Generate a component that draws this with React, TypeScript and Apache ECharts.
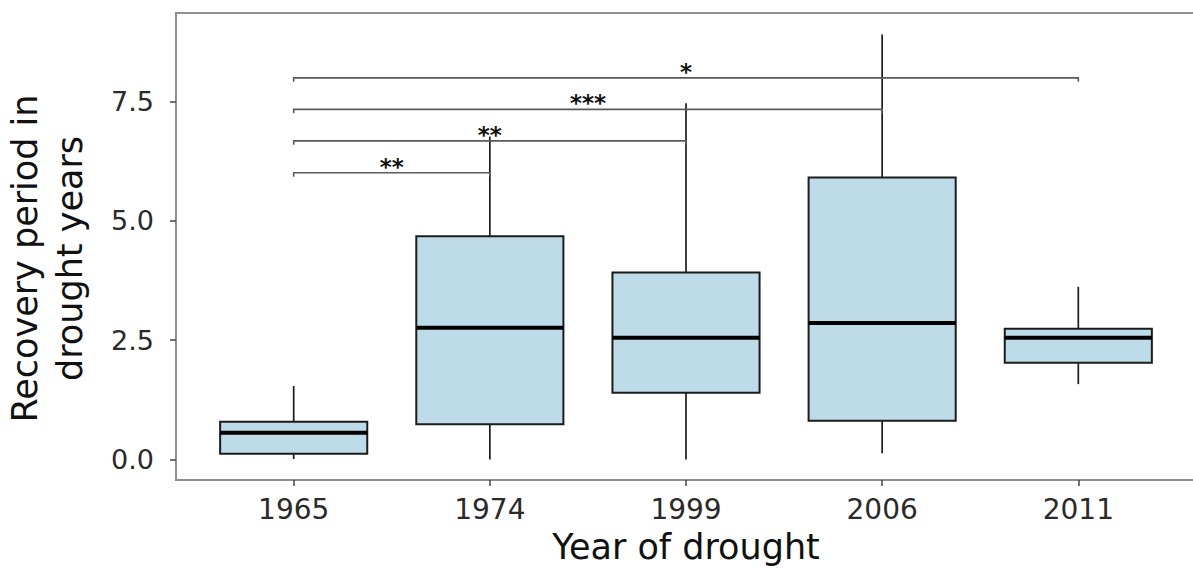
import React, { useEffect, useRef } from "react";
import * as echarts from "echarts";

const categories = ["1965", "1974", "1999", "2006", "2011"];
// [min, Q1, median, Q3, max]
const boxStats: number[][] = [
  [0.01, 0.12, 0.56, 0.79, 1.54],
  [0.0, 0.74, 2.76, 4.68, 6.77],
  [0.0, 1.4, 2.55, 3.92, 7.47],
  [0.13, 0.81, 2.86, 5.91, 8.91],
  [1.58, 2.03, 2.55, 2.74, 3.62],
];
const yTicks = [0, 2.5, 5, 7.5];
// [from category index, to category index, height, label]
const brackets: [number, number, number, string][] = [
  [0, 1, 6.01, "**"],
  [0, 2, 6.68, "**"],
  [0, 3, 7.34, "***"],
  [0, 4, 8.0, "*"],
];

const FONT = "'DejaVu Sans', Verdana, sans-serif";

export default function App() {
  const ref = useRef<HTMLDivElement>(null);
  useEffect(() => {
    if (!ref.current) return;
    const chart = echarts.init(ref.current, undefined, { renderer: "svg" });
    const xPos = categories.map((_, i) => i + 1);
    chart.setOption({
      animation: false,
      backgroundColor: "#ffffff",
      grid: {
        left: 176,
        right: 0,
        top: 13,
        bottom: 89,
        containLabel: false,
        outerBoundsMode: "none",
        show: true,
        borderColor: "#8e8e8e",
        borderWidth: 2,
        backgroundColor: "transparent",
      },
      xAxis: {
        type: "value",
        min: 0.4,
        max: 5.6,
        splitLine: { show: false },
        axisLine: { show: false, onZero: false },
        axisTick: {
          show: true,
          customValues: xPos,
          length: 6,
          lineStyle: { color: "#444", width: 1.5 },
        },
        axisLabel: {
          customValues: xPos,
          formatter: (v: number) => categories[Math.round(v) - 1] ?? "",
          fontSize: 28,
          fontFamily: FONT,
          color: "#2a2a2a",
          margin: 15,
        },
        name: "Year of drought",
        nameLocation: "middle",
        nameGap: 49,
        nameTextStyle: { fontSize: 35, fontFamily: FONT, color: "#111" },
      },
      yAxis: {
        type: "value",
        min: -0.43,
        max: 9.36,
        splitLine: { show: false },
        axisLine: { show: false, onZero: false },
        axisTick: {
          show: true,
          customValues: yTicks,
          length: 6,
          lineStyle: { color: "#444", width: 1.5 },
        },
        axisLabel: {
          customValues: yTicks,
          formatter: (v: number) => v.toFixed(1),
          fontSize: 27,
          fontFamily: FONT,
          color: "#2a2a2a",
          margin: 22,
        },
        name: "Recovery period in\ndrought years",
        nameLocation: "middle",
        nameRotate: 90,
        nameGap: 84,
        nameTextStyle: {
          fontSize: 35,
          fontFamily: FONT,
          color: "#111",
          lineHeight: 45,
          padding: [0, 24, 0, 0],
        },
      },
      series: [
        {
          type: "custom",
          data: boxStats.map((s, i) => [i + 1, ...s]),
          encode: { x: 0, y: [1, 2, 3, 4, 5] },
          renderItem: (params: any, api: any) => {
            const x = api.value(0);
            const pMin = api.coord([x, api.value(1)]);
            const pQ1 = api.coord([x, api.value(2)]);
            const pMed = api.coord([x, api.value(3)]);
            const pQ3 = api.coord([x, api.value(4)]);
            const pMax = api.coord([x, api.value(5)]);
            const w = api.size([0.75, 0])[0];
            const cx = pMed[0];
            const stroke = "#1c1c1c";
            return {
              type: "group",
              children: [
                { type: "line", shape: { x1: cx, y1: pQ3[1], x2: cx, y2: pMax[1] }, style: { stroke, lineWidth: 1.7 } },
                { type: "line", shape: { x1: cx, y1: pQ1[1], x2: cx, y2: pMin[1] }, style: { stroke, lineWidth: 1.7 } },
                {
                  type: "rect",
                  shape: { x: cx - w / 2, y: pQ3[1], width: w, height: pQ1[1] - pQ3[1] },
                  style: { fill: "#bddbe8", stroke, lineWidth: 2 },
                },
                { type: "line", shape: { x1: cx - w / 2, y1: pMed[1], x2: cx + w / 2, y2: pMed[1] }, style: { stroke: "#000", lineWidth: 4 } },
              ],
            };
          },
          z: 2,
        },
        {
          type: "custom",
          data: brackets.map((b) => [b[0] + 1, b[1] + 1, b[2], b[3]]),
          encode: { x: [0, 1], y: 2 },
          renderItem: (params: any, api: any) => {
            const a = api.coord([api.value(0), api.value(2)]);
            const b = api.coord([api.value(1), api.value(2)]);
            const label = brackets[params.dataIndex][3];
            const tip = 4;
            return {
              type: "group",
              children: [
                {
                  type: "polyline",
                  shape: { points: [[a[0], a[1] + tip], [a[0], a[1]], [b[0], b[1]], [b[0], b[1] + tip]] },
                  style: { stroke: "#5a5a5a", lineWidth: 1.6, fill: "none" },
                },
                {
                  type: "text",
                  x: (a[0] + b[0]) / 2,
                  y: a[1] - 6,
                  style: {
                    text: label,
                    fontSize: 23,
                    fontWeight: "bold",
                    fontFamily: FONT,
                    fill: "#111",
                    align: "center",
                    verticalAlign: "middle",
                  },
                },
              ],
            };
          },
          z: 3,
        },
      ],
    });
    return () => chart.dispose();
  }, []);
  return (
    <div
      ref={ref}
      style={{ position: "fixed", left: 0, top: 0, width: 1196, height: 569, background: "#fff" }}
    />
  );
}
